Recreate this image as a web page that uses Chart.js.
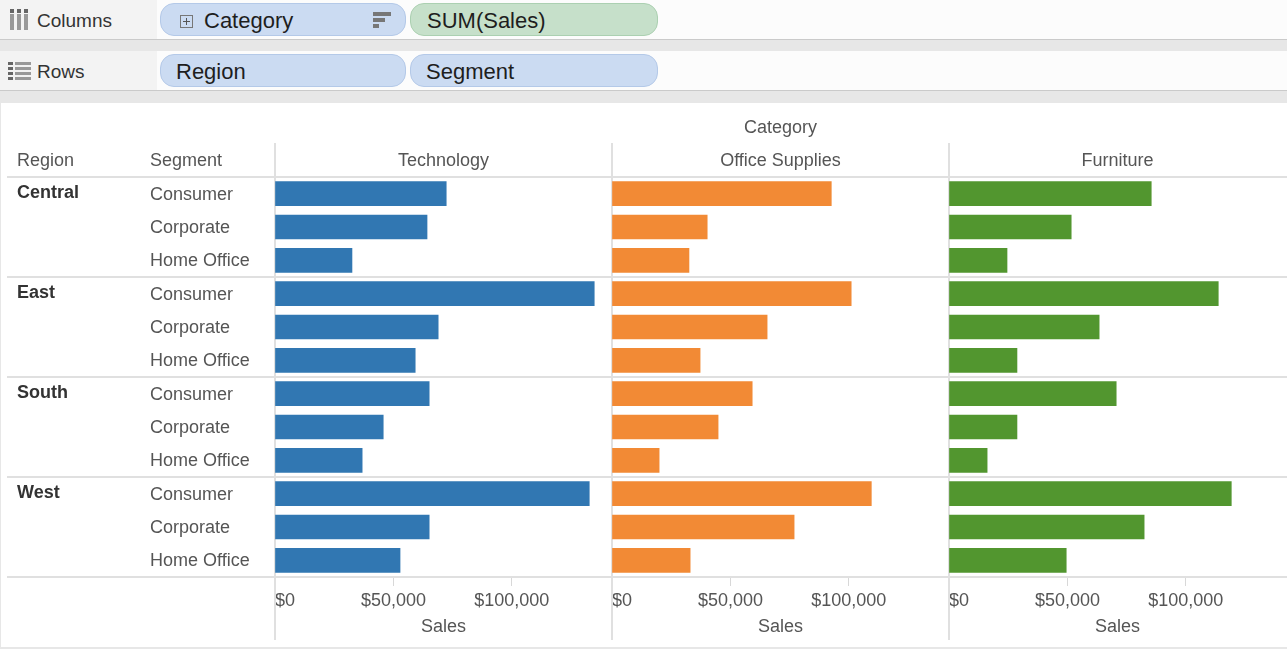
<!DOCTYPE html>
<html>
<head>
<meta charset="utf-8">
<title>Sales by Region, Segment and Category</title>
<script src="https://cdn.jsdelivr.net/npm/chart.js@4.4.1/dist/chart.umd.min.js"></script>
<style>
  body { margin: 0; width: 1287px; height: 649px; overflow: hidden; background: #e7e7e7; font-family: "Liberation Sans", Arial, sans-serif; position: relative; }
  .shelf { position: absolute; left: 0; width: 1287px; height: 39px; background: #fcfcfc; border-bottom: 1px solid #cacaca; }
  .shelf .name { position: absolute; left: 0; top: 0; width: 157px; height: 39px; background: #f3f3f3; }
  .shelf .name span { position: absolute; left: 37px; top: 1px; line-height: 39px; font-size: 19px; color: #333; }
  .shelf svg { position: absolute; }
  .pill { position: absolute; top: 3px; height: 33px; box-sizing: border-box; border-radius: 14px; font-size: 22px; line-height: 33px; color: #1e1e1e; }
  .pill.dim { background: #cbdbf2; border: 1px solid #b4c9e8; }
  .pill.mea { background: #c6e0ca; border: 1px solid #abd0b1; }
  .pill span { position: absolute; top: 0; }
  #sheet { position: absolute; left: 1px; top: 103px; width: 1286px; height: 544px; background: #fff; }
  .panel { position: absolute; top: 103px; height: 544px; }
</style>
</head>
<body>
<div class="shelf" style="top:0">
  <div class="name">
    <svg style="left:10px;top:9px" width="19" height="21">
      <rect x="0" y="0" width="4" height="4" fill="#666"/><rect x="0" y="5" width="4" height="16" fill="#999"/>
      <rect x="7" y="0" width="4" height="4" fill="#666"/><rect x="7" y="5" width="4" height="16" fill="#999"/>
      <rect x="14" y="0" width="4" height="4" fill="#666"/><rect x="14" y="5" width="4" height="16" fill="#999"/>
    </svg>
    <span>Columns</span>
  </div>
  <div class="pill dim" style="left:160px;width:246px">
    <svg style="left:19px;top:11px" width="13" height="13"><rect x="0.5" y="0.5" width="12" height="12" fill="none" stroke="#777"/><path d="M3 6.5H10M6.5 3V10" stroke="#555"/></svg>
    <span style="left:43px">Category</span>
    <svg style="left:212px;top:8px" width="19" height="18"><rect x="0" y="0" width="18" height="4" fill="#777"/><rect x="0" y="6" width="12" height="4" fill="#777"/><rect x="0" y="12" width="6" height="4" fill="#777"/></svg>
  </div>
  <div class="pill mea" style="left:410px;width:248px"><span style="left:16px">SUM(Sales)</span></div>
</div>
<div class="shelf" style="top:51px">
  <div class="name">
    <svg style="left:8px;top:11px" width="23" height="18">
      <rect x="0" y="0" width="5" height="3" fill="#666"/><rect x="7" y="0" width="16" height="3" fill="#999"/>
      <rect x="0" y="5" width="5" height="3" fill="#666"/><rect x="7" y="5" width="16" height="3" fill="#999"/>
      <rect x="0" y="10" width="5" height="3" fill="#666"/><rect x="7" y="10" width="16" height="3" fill="#999"/>
      <rect x="0" y="15" width="5" height="3" fill="#666"/><rect x="7" y="15" width="16" height="3" fill="#999"/>
    </svg>
    <span>Rows</span>
  </div>
  <div class="pill dim" style="left:160px;width:246px"><span style="left:15px">Region</span></div>
  <div class="pill dim" style="left:410px;width:248px"><span style="left:15px">Segment</span></div>
</div>
<div id="sheet"></div>
<div class="panel" style="left:0;width:616px"><canvas id="techChart"></canvas></div>
<div class="panel" style="left:608px;width:345px"><canvas id="officeChart"></canvas></div>
<div class="panel" style="left:945px;width:345px"><canvas id="furnChart"></canvas></div>

<script>
const regions = ["Central", "East", "South", "West"];
const segments = ["Consumer", "Corporate", "Home Office"];
const categories = ["Technology", "Office Supplies", "Furniture"];

// SUM(Sales), row order: region then segment (Central Consumer, Central Corporate, ...)
const technologySales = [72300, 64200, 32500, 134800, 68900, 59200, 65100, 45700, 36800, 132700, 65100, 52800];
const officeSuppliesSales = [92600, 40200, 32500, 101000, 65500, 37200, 59200, 44800, 19900, 109500, 76900, 33000];
const furnitureSales = [85400, 51600, 24500, 113700, 63400, 28700, 70600, 28700, 16100, 119200, 82400, 49500];

const salesTicks = [0, 50000, 100000];
const salesMax = 142300;
const barColors = ["#3177b2", "#f28a35", "#52962f"];

const rowSegments = regions.flatMap(() => segments);
const rowRegions = regions.flatMap((r) => segments.map((s, i) => (i === 0 ? r : "")));

const LINE = "#e0e0e0";
const TEXT = "#555";
const FONT = "'Liberation Sans', Arial, sans-serif";
Chart.defaults.font.family = FONT;
Chart.defaults.font.size = 18;

// table lines + row header captions, Tableau style
const tableFrame = {
  id: "tableFrame",
  beforeDatasetsDraw(chart, args, opts) {
    const { ctx, chartArea: a, scales } = chart;
    const y = scales.y;
    ctx.save();
    ctx.strokeStyle = LINE;
    ctx.lineWidth = 2;
    ctx.beginPath();
    ctx.moveTo(a.left, a.top - 34);
    ctx.lineTo(a.left, a.bottom + 63);
    const x0 = opts.lineStart != null ? opts.lineStart : a.left;
    const x1 = opts.toEdge ? chart.width : a.right;
    const n = rowSegments.length;
    for (let i = 0; i <= n; i += segments.length) {
      let py;
      if (i === 0) py = a.top;
      else if (i === n) py = a.bottom;
      else py = (y.getPixelForValue(i - 1) + y.getPixelForValue(i)) / 2;
      py = Math.round(py);
      ctx.moveTo(x0, py);
      ctx.lineTo(x1, py);
    }
    ctx.stroke();
    if (opts.headers) {
      ctx.fillStyle = TEXT;
      ctx.font = "18px " + FONT;
      ctx.textBaseline = "middle";
      ctx.textAlign = "left";
      ctx.fillText("Region", scales.yRegion.left, a.top - 16);
      ctx.fillText("Segment", scales.y.left, a.top - 16);
    }
    ctx.restore();
  },
};

function makePanel(canvasId, idx, values, first, last) {
  const yScales = first
    ? {
        y: {
          type: "category",
          position: "left",
          weight: 0,
          grid: { display: false },
          border: { display: false },
          ticks: { crossAlign: "far", color: TEXT, autoSkip: false, padding: 0, labelOffset: 1 },
          afterFit: (s) => { s.width = 125; },
        },
        yRegion: {
          type: "category",
          position: "left",
          weight: 1,
          labels: rowRegions,
          offset: true,
          grid: { display: false },
          border: { display: false },
          ticks: { crossAlign: "far", color: "#333", autoSkip: false, labelOffset: -1, font: { weight: "bold" } },
          afterFit: (s) => { s.width = 133; },
        },
      }
    : { y: { display: false } };

  return new Chart(document.getElementById(canvasId), {
    type: "bar",
    data: {
      labels: rowSegments,
      datasets: [{ label: categories[idx], data: values, backgroundColor: barColors[idx], barThickness: 24 }],
    },
    plugins: [tableFrame],
    options: {
      indexAxis: "y",
      responsive: true,
      maintainAspectRatio: false,
      animation: false,
      layout: { padding: { left: first ? 17 : 4, right: 4, top: 0, bottom: 0 } },
      scales: {
        x: {
          min: 0,
          max: salesMax,
          afterBuildTicks: (s) => {
            s.ticks = salesTicks.concat([salesMax]).map((v) => ({ value: v }));
          },
          afterFit: (s) => { s.height = 70; },
          grid: {
            drawOnChartArea: false,
            drawTicks: true,
            tickLength: 9,
            color: (c) => (c.tick && salesTicks.includes(c.tick.value) ? "#d8d8d8" : "rgba(0,0,0,0)"),
          },
          border: { display: false },
          ticks: {
            align: "inner",
            padding: 4,
            autoSkip: false,
            maxRotation: 0,
            minRotation: 0,
            color: TEXT,
            callback: (v) => (salesTicks.includes(v) ? "$" + v.toLocaleString("en-US") : ""),
          },
          title: { display: true, text: "Sales", color: TEXT, padding: { top: 0, bottom: 9 } },
        },
        ...yScales,
      },
      plugins: {
        legend: { display: false },
        tooltip: { enabled: false },
        title: {
          display: true,
          fullSize: false,
          text: [idx === 1 ? "Category" : "", categories[idx]],
          color: TEXT,
          font: { size: 18, weight: "normal", lineHeight: "33px" },
          padding: { top: 8.5, bottom: -0.5 },
        },
        tableFrame: { lineStart: first ? 7 : null, toEdge: last, headers: first },
      },
    },
  });
}

makePanel("techChart", 0, technologySales, true, false);
makePanel("officeChart", 1, officeSuppliesSales, false, false);
makePanel("furnChart", 2, furnitureSales, false, true);
</script>
</body>
</html>
